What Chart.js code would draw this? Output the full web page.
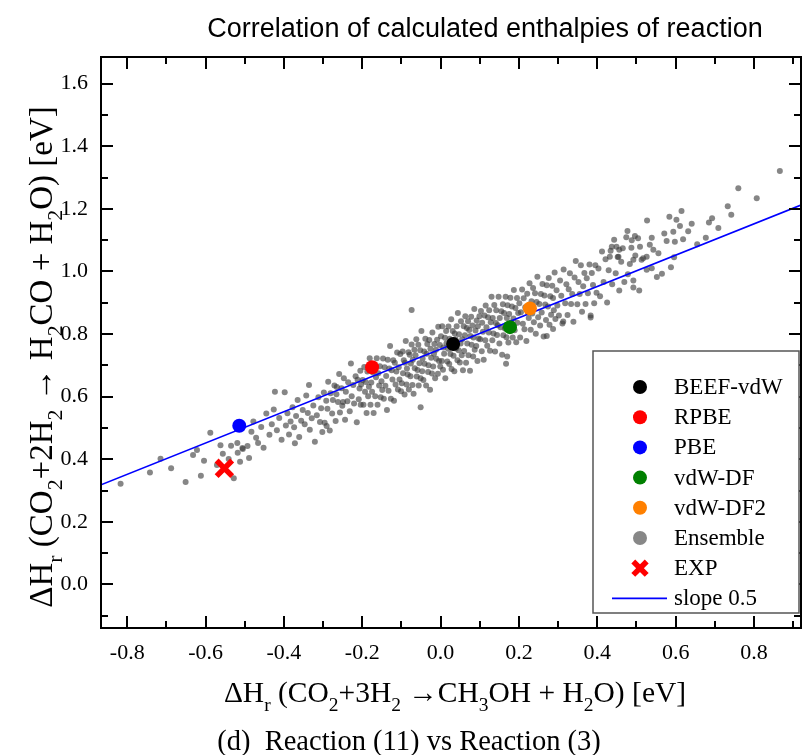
<!DOCTYPE html>
<html>
<head>
  <title>Correlation of calculated enthalpies of reaction</title>
  <script src="https://cdn.jsdelivr.net/npm/chart.js"></script>
  <style>
    html, body { margin: 0; padding: 0; overflow: hidden; background: #fff; }
    canvas { display: block; }
  </style>
</head>
<body>
  <canvas id="myChart" width="802" height="755"></canvas>
  <script>
    // Fonksiyonellerin noktaları
    var functionals = ['BEEF-vdW', 'RPBE', 'PBE', 'vdW-DF', 'vdW-DF2'];
    var funcColors = ['#000000', '#ff0000', '#0000ff', '#008000', '#ff8000'];
    var funcX = [0.032, -0.175, -0.514, 0.177, 0.228];
    var funcY = [0.768, 0.694, 0.507, 0.822, 0.882];

    // Deneysel değer
    var expX = [-0.552];
    var expY = [0.371];

    // Eğim 0.5 doğrusu (uçlar)
    var slopeX = [-0.867, 0.92];
    var slopeY = [0.3185, 1.212];

    // Eksen aralıkları
    var xRange = [-0.867, 0.92];
    var yRange = [-0.139, 1.685];

    // Ensemble noktaları [x, y]
    var ensemble = [
      [-0.817,0.322],[-0.742,0.358],[-0.715,0.402],
      [-0.688,0.371],[-0.651,0.327],[-0.632,0.414],[-0.622,0.430],[-0.612,0.347],[-0.604,0.395],
      [-0.588,0.485],[-0.571,0.382],[-0.562,0.445],[-0.556,0.418],[-0.541,0.401],[-0.535,0.443],[-0.528,0.339],[-0.519,0.452],[-0.518,0.421],[-0.512,0.392],[-0.506,0.436],[-0.505,0.433],
      [-0.493,0.442],[-0.489,0.404],[-0.483,0.488],[-0.478,0.521],[-0.471,0.469],[-0.466,0.452],[-0.458,0.503],[-0.452,0.437],[-0.445,0.546],[-0.437,0.478],[-0.431,0.512],[-0.426,0.559],[-0.423,0.616],[-0.418,0.493],[-0.412,0.532],[-0.406,0.462],
      [-0.398,0.614],[-0.395,0.508],[-0.391,0.547],[-0.387,0.479],[-0.383,0.521],[-0.378,0.566],[-0.374,0.502],[-0.372,0.451],[-0.369,0.538],[-0.365,0.589],[-0.361,0.471],[-0.356,0.523],[-0.352,0.557],
      [-0.347,0.512],[-0.343,0.604],[-0.339,0.548],[-0.336,0.637],[-0.334,0.494],[-0.329,0.531],[-0.325,0.572],[-0.321,0.456],[-0.316,0.541],[-0.312,0.598],[-0.308,0.519],[-0.305,0.563],[-0.302,0.487],
      [-0.298,0.613],[-0.296,0.517],[-0.292,0.587],[-0.291,0.506],[-0.289,0.561],[-0.287,0.648],[-0.283,0.492],[-0.281,0.611],[-0.277,0.546],[-0.275,0.589],[-0.271,0.636],[-0.268,0.522],[-0.266,0.608],
      [-0.265,0.631],[-0.262,0.583],[-0.259,0.672],[-0.257,0.549],[-0.253,0.627],[-0.251,0.571],[-0.249,0.583],[-0.247,0.659],[-0.244,0.526],[-0.242,0.616],[-0.238,0.585],[-0.236,0.646],[-0.232,0.553],
      [-0.229,0.706],[-0.227,0.601],[-0.223,0.637],[-0.221,0.578],[-0.217,0.665],[-0.214,0.518],[-0.212,0.654],[-0.209,0.592],[-0.207,0.626],[-0.205,0.683],[-0.204,0.574],[-0.203,0.639],
      [-0.199,0.653],[-0.197,0.574],[-0.195,0.695],[-0.193,0.616],[-0.191,0.647],[-0.189,0.548],[-0.187,0.680],[-0.185,0.601],[-0.183,0.632],[-0.181,0.723],
      [-0.179,0.574],[-0.177,0.645],[-0.175,0.616],[-0.173,0.677],[-0.171,0.548],[-0.169,0.700],[-0.167,0.601],[-0.165,0.662],[-0.163,0.723],[-0.161,0.574],
      [-0.159,0.675],[-0.157,0.636],[-0.155,0.697],[-0.153,0.598],[-0.151,0.649],[-0.149,0.621],[-0.147,0.722],[-0.145,0.593],[-0.143,0.694],[-0.141,0.635],
      [-0.139,0.666],[-0.137,0.557],[-0.135,0.718],[-0.133,0.619],[-0.131,0.690],[-0.129,0.762],[-0.127,0.593],[-0.125,0.684],[-0.123,0.655],[-0.121,0.716],
      [-0.119,0.587],[-0.117,0.708],[-0.115,0.639],[-0.113,0.680],[-0.111,0.741],[-0.109,0.623],[-0.107,0.694],[-0.105,0.655],[-0.103,0.736],[-0.101,0.617],
      [-0.099,0.643],[-0.097,0.744],[-0.096,0.675],[-0.094,0.716],[-0.092,0.607],[-0.091,0.708],[-0.089,0.778],[-0.087,0.639],[-0.086,0.690],[-0.084,0.671],
      [-0.082,0.742],[-0.081,0.623],[-0.079,0.734],[-0.077,0.665],[-0.076,0.706],[-0.074,0.767],[-0.072,0.637],[-0.071,0.718],[-0.069,0.609],[-0.067,0.750],
      [-0.066,0.691],[-0.064,0.732],[-0.062,0.783],[-0.061,0.664],[-0.059,0.685],[-0.057,0.766],[-0.056,0.636],[-0.054,0.707],[-0.052,0.748],[-0.051,0.659],
      [-0.049,0.810],[-0.047,0.681],[-0.046,0.722],[-0.044,0.653],[-0.042,0.744],[-0.041,0.705],[-0.039,0.785],[-0.037,0.636],[-0.036,0.737],[-0.034,0.768],
      [-0.032,0.679],[-0.031,0.700],[-0.029,0.781],[-0.027,0.622],[-0.026,0.753],[-0.024,0.724],[-0.022,0.674],[-0.021,0.805],[-0.019,0.696],[-0.017,0.737],
      [-0.016,0.768],[-0.014,0.659],[-0.012,0.750],[-0.011,0.721],[-0.009,0.782],[-0.007,0.673],[-0.006,0.823],[-0.004,0.714],[-0.002,0.765],[-0.001,0.696],
      [-0.074,0.877],[-0.051,0.566],
      [0.001,0.793],[0.003,0.714],[0.004,0.825],[0.006,0.686],[0.007,0.757],[0.009,0.737],[0.011,0.788],[0.012,0.659],[0.014,0.810],[0.015,0.771],
      [0.017,0.712],[0.019,0.753],[0.020,0.824],[0.022,0.704],[0.023,0.785],[0.025,0.736],[0.027,0.847],[0.028,0.688],[0.030,0.769],[0.031,0.810],
      [0.033,0.731],[0.035,0.681],[0.036,0.802],[0.038,0.783],[0.039,0.754],[0.041,0.825],[0.043,0.716],[0.044,0.867],[0.046,0.748],[0.047,0.799],
      [0.049,0.709],[0.051,0.770],[0.052,0.841],[0.054,0.732],[0.055,0.783],[0.057,0.684],[0.059,0.825],[0.060,0.746],[0.062,0.796],[0.063,0.857],
      [0.065,0.708],[0.067,0.819],[0.068,0.770],[0.070,0.841],[0.071,0.732],[0.073,0.813],[0.075,0.683],[0.076,0.794],[0.078,0.855],[0.079,0.766],
      [0.081,0.827],[0.083,0.728],[0.084,0.789],[0.086,0.880],[0.087,0.750],[0.089,0.811],[0.091,0.762],[0.092,0.843],[0.094,0.714],[0.095,0.825],
      [0.097,0.786],[0.099,0.857],
      [0.101,0.783],[0.103,0.874],[0.105,0.745],[0.106,0.836],[0.108,0.807],[0.110,0.718],[0.112,0.859],[0.114,0.780],[0.115,0.891],[0.117,0.822],
      [0.119,0.763],[0.121,0.854],[0.123,0.805],[0.124,0.876],[0.126,0.747],[0.128,0.838],[0.130,0.919],[0.132,0.780],[0.133,0.851],[0.135,0.802],
      [0.137,0.893],[0.139,0.744],[0.141,0.835],[0.142,0.876],[0.144,0.797],[0.146,0.828],[0.148,0.919],[0.150,0.770],[0.151,0.851],[0.153,0.822],
      [0.155,0.873],[0.157,0.734],[0.159,0.895],[0.160,0.796],[0.162,0.867],[0.164,0.818],[0.166,0.919],[0.168,0.790],[0.169,0.851],[0.171,0.892],
      [0.173,0.773],[0.175,0.864],[0.177,0.815],[0.178,0.916],[0.180,0.837],[0.182,0.888],[0.184,0.789],[0.186,0.850],[0.187,0.941],[0.189,0.812],
      [0.191,0.883],[0.193,0.774],[0.195,0.915],[0.196,0.836],[0.198,0.867],[0.170,0.728],[0.167,0.705],
      [0.201,0.898],[0.203,0.789],[0.205,0.870],[0.208,0.942],[0.210,0.833],[0.212,0.914],[0.214,0.815],[0.216,0.886],[0.219,0.778],[0.221,0.929],
      [0.223,0.870],[0.225,0.851],[0.227,0.962],[0.230,0.814],[0.232,0.905],[0.234,0.866],[0.236,0.947],[0.238,0.838],[0.241,0.930],[0.243,0.801],
      [0.245,0.902],[0.247,0.983],[0.249,0.854],[0.252,0.896],[0.254,0.827],[0.256,0.928],[0.258,0.869],[0.260,0.960],[0.263,0.792],[0.265,0.923],
      [0.267,0.894],[0.269,0.845],[0.271,0.956],[0.274,0.888],[0.276,0.979],[0.278,0.830],[0.280,0.921],[0.282,0.862],[0.285,0.954],[0.287,0.915],
      [0.289,0.876],[0.291,0.997],[0.293,0.848],[0.296,0.940],[0.298,0.891],[0.271,0.794],[0.287,0.816],
      [0.302,0.859],[0.305,0.971],[0.308,0.922],[0.311,0.834],[0.314,1.006],[0.318,0.898],[0.321,0.959],[0.324,0.861],[0.327,0.943],[0.330,0.994],
      [0.333,0.896],[0.336,0.928],[0.339,0.839],[0.342,0.981],[0.345,1.033],[0.349,0.895],[0.352,0.966],[0.355,0.928],[0.358,1.020],[0.361,0.871],
      [0.364,0.953],[0.367,0.995],[0.370,0.896],[0.373,0.978],[0.376,0.930],[0.380,1.022],[0.383,0.853],[0.386,0.995],[0.389,0.957],[0.392,0.898],
      [0.395,1.020],[0.398,0.932],[0.313,0.840],[0.383,0.859],
      [0.403,1.009],[0.407,0.921],[0.412,1.064],[0.416,0.966],[0.421,1.039],[0.425,0.901],[0.429,1.004],[0.434,1.066],[0.438,0.959],[0.443,1.101],
      [0.447,0.994],[0.452,1.046],[0.456,0.939],[0.461,1.031],[0.465,1.074],[0.469,0.966],[0.474,1.109],[0.478,0.991],[0.483,1.024],[0.487,1.076],
      [0.492,0.949],[0.497,1.051],
      [0.477,1.129],[0.488,1.100],[0.496,1.113],[0.492,0.971],[0.456,1.069],[0.449,1.079],[0.437,1.079],[0.432,1.047],[0.454,1.047],[0.492,1.037],
      [0.507,0.939],[0.517,1.042],[0.526,1.005],[0.527,1.163],[0.534,1.085],[0.539,1.108],[0.539,1.010],[0.543,1.069],[0.577,1.097],[0.584,1.175],
      [0.588,1.013],[0.594,1.127],[0.596,1.045],[0.598,1.095],[0.513,1.037],[0.509,1.079],[0.504,1.106],[0.526,1.047],[0.556,1.058],[0.565,0.993],
      [0.571,1.121],[0.552,0.982],
      [0.602,1.165],[0.611,1.145],[0.615,1.193],[0.619,1.103],[0.677,1.108],[0.685,1.156],[0.693,1.170],[0.632,1.128],[0.655,1.087],[0.641,1.152],
      [0.709,1.139],[0.733,1.208],[0.760,1.266],[0.807,1.234],[0.866,1.321],[0.742,1.181]
    ];

    // Metinler
    var chartTitle = 'Correlation of calculated enthalpies of reaction';
    var caption = '(d)  Reaction (11) vs Reaction (3)';
    // [metin, alt simge mi]
    var xTitle = [['\u0394H', 0], ['r', 1], [' (CO', 0], ['2', 1], ['+3H', 0], ['2', 1], [' \u2192CH', 0], ['3', 1], ['OH + H', 0], ['2', 1], ['O) [eV]', 0]];
    var yTitle = [['\u0394H', 0], ['r', 1], [' (CO', 0], ['2', 1], ['+2H', 0], ['2', 1], [' \u2192 H', 0], ['2', 1], ['CO + H', 0], ['2', 1], ['O) [eV]', 0]];

    var SERIF = '"Liberation Serif", "Times New Roman", serif';

    function isMajor(v) {
      return Math.abs(Math.round(v * 10)) % 2 === 0;
    }
    function tickLabel(v) {
      return isMajor(v) ? v.toFixed(1) : '';
    }

    // Alt simgeli metin çizimi
    function drawRich(ctx, parts, cx, baseY, size) {
      var w = 0;
      parts.forEach(function (p) {
        ctx.font = (p[1] ? size * 0.66 : size) + 'px ' + SERIF;
        w += ctx.measureText(p[0]).width;
      });
      var x = cx - w / 2;
      ctx.textAlign = 'left';
      ctx.textBaseline = 'alphabetic';
      parts.forEach(function (p) {
        ctx.font = (p[1] ? size * 0.66 : size) + 'px ' + SERIF;
        ctx.fillText(p[0], x, baseY + (p[1] ? size * 0.3 : 0));
        x += ctx.measureText(p[0]).width;
      });
    }

    // Çerçeve ve içe dönük tikler
    var framePlugin = {
      id: 'frame',
      afterDatasetsDraw: function (chart) {
        var ctx = chart.ctx, a = chart.chartArea;
        var xs = chart.scales.x, ys = chart.scales.y;
        ctx.save();
        ctx.strokeStyle = '#000';
        ctx.lineWidth = 2;
        ctx.strokeRect(a.left, a.top, a.right - a.left, a.bottom - a.top);
        ctx.beginPath();
        xs.ticks.forEach(function (t) {
          var px = Math.round(xs.getPixelForValue(t.value));
          var len = isMajor(t.value) ? 12 : 7;
          ctx.moveTo(px, a.bottom); ctx.lineTo(px, a.bottom - len);
          ctx.moveTo(px, a.top); ctx.lineTo(px, a.top + len);
        });
        ys.ticks.forEach(function (t) {
          var py = Math.round(ys.getPixelForValue(t.value));
          var len = isMajor(t.value) ? 12 : 7;
          ctx.moveTo(a.left, py); ctx.lineTo(a.left + len, py);
          ctx.moveTo(a.right, py); ctx.lineTo(a.right - len, py);
        });
        ctx.stroke();
        ctx.restore();
      }
    };

    // Lejant kutusu
    var legendPlugin = {
      id: 'boxLegend',
      afterDraw: function (chart) {
        var ctx = chart.ctx, a = chart.chartArea;
        var left = a.right - 208, top = a.top + 294, right = a.right - 2, bottom = a.bottom - 15;
        ctx.save();
        ctx.fillStyle = '#fff';
        ctx.fillRect(left, top, right - left, bottom - top);
        ctx.strokeStyle = '#555';
        ctx.lineWidth = 1.5;
        ctx.strokeRect(left, top, right - left, bottom - top);
        ctx.font = '23px ' + SERIF;
        ctx.textBaseline = 'middle';
        ctx.textAlign = 'left';
        chart.data.datasets.forEach(function (ds, i) {
          var y = top + 36 + i * 30.2;
          var mx = left + 47;
          if (ds.showLine) {
            ctx.strokeStyle = ds.borderColor;
            ctx.lineWidth = ds.borderWidth;
            ctx.beginPath();
            ctx.moveTo(left + 19, y); ctx.lineTo(left + 74, y);
            ctx.stroke();
          } else {
            ctx.fillStyle = ds.legendColor || ds.backgroundColor;
            ctx.strokeStyle = ds.borderColor;
            ctx.lineWidth = ds.borderWidth;
            Chart.helpers.drawPoint(ctx, {
              pointStyle: ds.pointStyle || 'circle',
              radius: ds.legendRadius || ds.pointRadius,
              borderWidth: ds.borderWidth,
              rotation: 0
            }, mx, y);
          }
          ctx.fillStyle = '#000';
          ctx.fillText(ds.label, left + 81, y + 1);
        });
        ctx.restore();
      }
    };

    // Başlık, eksen başlıkları ve alt yazı
    var textPlugin = {
      id: 'texts',
      afterDraw: function (chart) {
        var ctx = chart.ctx;
        ctx.save();
        ctx.fillStyle = '#000';
        ctx.font = '27px "Liberation Sans", Arial, sans-serif';
        ctx.textAlign = 'center';
        ctx.textBaseline = 'alphabetic';
        ctx.fillText(chartTitle, 485, 37);

        drawRich(ctx, xTitle, 455, 702, 29.5);

        ctx.save();
        ctx.translate(52, 357);
        ctx.rotate(-Math.PI / 2);
        drawRich(ctx, yTitle, 0, 0, 33);
        ctx.restore();

        ctx.font = '28.5px ' + SERIF;
        ctx.textAlign = 'center';
        ctx.fillText(caption, 409, 750);
        ctx.restore();
      }
    };

    var datasets = functionals.map(function (name, i) {
      return {
        label: name,
        data: [{ x: funcX[i], y: funcY[i] }],
        backgroundColor: funcColors[i],
        borderColor: funcColors[i],
        borderWidth: 0,
        pointRadius: 7,
        order: 0
      };
    });
    datasets.push({
      label: 'Ensemble',
      data: ensemble.map(function (p) { return { x: p[0], y: p[1] }; }),
      backgroundColor: 'rgba(60, 60, 60, 0.62)',
      legendColor: '#878787',
      borderColor: 'rgba(0,0,0,0)',
      borderWidth: 0,
      pointRadius: 3,
      legendRadius: 7,
      order: 2
    });
    datasets.push({
      label: 'EXP',
      data: expX.map(function (x, i) { return { x: x, y: expY[i] }; }),
      pointStyle: 'crossRot',
      backgroundColor: '#ff0000',
      borderColor: '#ff0000',
      borderWidth: 5.5,
      pointRadius: 11,
      legendRadius: 9.5,
      order: 0
    });
    datasets.push({
      label: 'slope 0.5',
      data: slopeX.map(function (x, i) { return { x: x, y: slopeY[i] }; }),
      showLine: true,
      borderColor: '#0000ff',
      borderWidth: 1.6,
      pointRadius: 0,
      order: 1
    });

    var ctx = document.getElementById('myChart').getContext('2d');
    var myChart = new Chart(ctx, {
      type: 'scatter',
      data: { datasets: datasets },
      options: {
        responsive: false,
        animation: false,
        events: [],
        layout: { autoPadding: false, padding: { top: 57, right: 1, left: 0, bottom: 0 } },
        plugins: {
          legend: { display: false },
          tooltip: { enabled: false }
        },
        scales: {
          x: {
            type: 'linear',
            min: xRange[0],
            max: xRange[1],
            afterFit: function (s) { s.height = 127; s.paddingLeft = 0; s.paddingRight = 0; },
            grid: { display: false, drawTicks: false },
            border: { display: false },
            ticks: {
              stepSize: 0.1,
              includeBounds: false,
              autoSkip: false,
              maxRotation: 0,
              padding: 12,
              color: '#000',
              font: { family: SERIF, size: 22 },
              callback: tickLabel
            }
          },
          y: {
            type: 'linear',
            min: yRange[0],
            max: yRange[1],
            afterFit: function (s) { s.width = 101; s.paddingTop = 0; s.paddingBottom = 0; },
            grid: { display: false, drawTicks: false },
            border: { display: false },
            ticks: {
              stepSize: 0.1,
              includeBounds: false,
              autoSkip: false,
              padding: 13,
              color: '#000',
              font: { family: SERIF, size: 22 },
              callback: tickLabel
            }
          }
        }
      },
      plugins: [framePlugin, textPlugin, legendPlugin]
    });
  </script>
</body>
</html>
